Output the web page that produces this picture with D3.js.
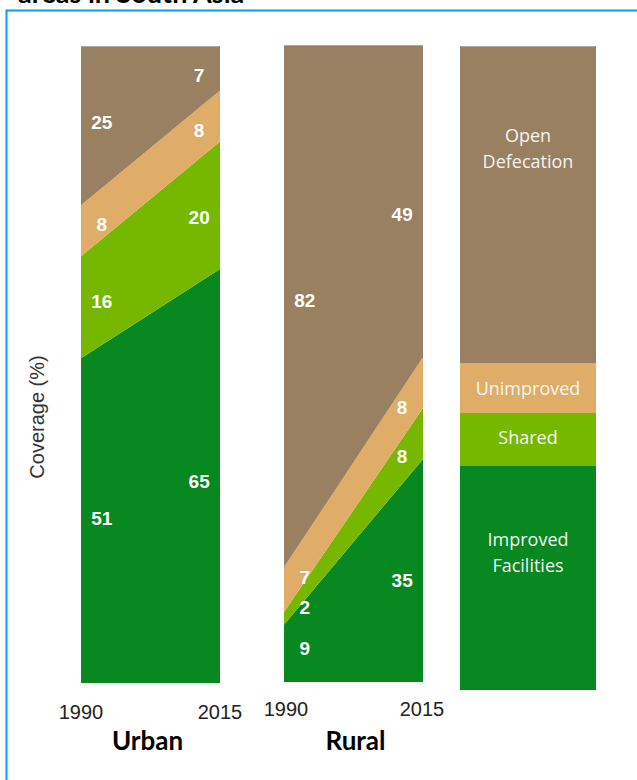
<!DOCTYPE html>
<html>
  <head>
    <title>Sanitation coverage, South Asia</title>
    <script src="https://d3js.org/d3.v7.min.js"></script>
    <style>
      body { margin: 0; background: #fff; }
      .value { font-family: "Liberation Sans", Arial, sans-serif; font-weight: bold; font-size: 19px; fill: #fff; text-anchor: middle; }
      .year { font-family: "Liberation Sans", Arial, sans-serif; font-size: 20px; fill: #222; text-anchor: middle; }
      .group { font-family: Lato, sans-serif; font-weight: bold; font-size: 26px; fill: #000; text-anchor: middle; }
      .legend-text { font-family: "Open Sans", sans-serif; font-size: 18px; fill: #f4f4f4; text-anchor: middle; }
    </style>
  </head>
  <body>
    <svg width="637" height="780"></svg>
    <script>
      // stacked bottom -> top
      const categories = ["Improved Facilities", "Shared", "Unimproved", "Open Defecation"];
      const years = ["1990", "2015"];
      const urban1990 = [51, 16, 8, 25];
      const urban2015 = [65, 20, 8, 7];
      const rural1990 = [9, 2, 7, 82];
      const rural2015 = [35, 8, 8, 49];
      const groups = ["Urban", "Rural"];

      const colors = ["#088820", "#76b800", "#e0ad68", "#998060"];

      const svg = d3.select("svg");

      // title, cut off at top
      svg.append("text")
        .attr("x", 18).attr("y", 3)
        .style("font-family", "Lato, sans-serif")
        .style("font-weight", "bold")
        .style("font-size", "27px")
        .text("areas in South Asia");

      // blue frame (only top and left edges visible)
      svg.append("path")
        .attr("d", "M6.5,780 V10.5 H640")
        .attr("fill", "none")
        .attr("stroke", "#0a9bf5")
        .attr("stroke-width", 2);

      svg.append("text")
        .attr("transform", "translate(44,417) rotate(-90)")
        .attr("text-anchor", "middle")
        .style("font-family", "'Liberation Sans', Arial, sans-serif")
        .style("font-size", "20px")
        .style("fill", "#333")
        .text("Coverage (%)");

      const panels = [
        { name: groups[0], rows: [urban1990, urban2015], x0: 81, x1: 220, top: 46, bottom: 683, yearY: 719, yearX: [81, 220] },
        { name: groups[1], rows: [rural1990, rural2015], x0: 284, x1: 423, top: 45, bottom: 682, yearY: 716, yearX: [286, 422] }
      ];

      const stack = d3.stack().keys(d3.range(categories.length));

      panels.forEach(p => {
        const data = p.rows.map((r, i) => Object.assign({ year: years[i] }, r));
        const series = stack(data);
        const x = d3.scalePoint().domain(years).range([p.x0, p.x1]);
        const y = d3.scaleLinear().domain([0, 100]).range([p.bottom, p.top]);
        const area = d3.area()
          .x(d => x(d.data.year))
          .y0(d => y(d[0]))
          .y1(d => y(d[1]));

        const g = svg.append("g");
        g.selectAll("path.band")
          .data(series)
          .join("path")
            .attr("class", "band")
            .attr("d", area)
            .attr("fill", (d, i) => colors[i]);

        // thin grey top edge
        g.append("line")
          .attr("x1", p.x0).attr("x2", p.x1)
          .attr("y1", p.top + 0.5).attr("y2", p.top + 0.5)
          .attr("stroke", "#a9a9a9");

        // value labels near each side, centred in band at that x
        const sides = [{ i: 0, t: 0.06, lx: 0.15 }, { i: 1, t: 0.88, lx: 0.85 }];
        sides.forEach(s => {
          const lx = p.x0 + s.lx * (p.x1 - p.x0);
          series.forEach(ser => {
            const a = ser[0], b = ser[1];
            const lo = a[0] + (b[0] - a[0]) * s.t;
            const hi = a[1] + (b[1] - a[1]) * s.t;
            g.append("text")
              .attr("class", "value")
              .attr("x", lx)
              .attr("y", y((lo + hi) / 2))
              .attr("dy", "0.36em")
              .text(ser[s.i].data[ser.key]);
          });
        });

        const xAxis = svg.append("g");
        xAxis.selectAll("text")
          .data(years)
          .join("text")
            .attr("class", "year")
            .attr("x", (d, i) => p.yearX[i])
            .attr("y", p.yearY)
            .text(d => d);

        svg.append("text")
          .attr("class", "group")
          .attr("x", (p.x0 + p.x1) / 2 + (p.name === "Urban" ? -3 : 2))
          .attr("y", 750)
          .text(p.name);
      });

      // legend column
      const legendX = 460, legendW = 136, legendBottom = 690;
      const legendHeights = [224, 53, 50, 317];       // layout only
      const legendTextY = [74, 25, 26, 90];          // first line offset from box top
      const legendLines = [["Improved", "Facilities"], ["Shared"], ["Unimproved"], ["Open", "Defecation"]];
      let yb = legendBottom;
      const lg = svg.append("g");
      categories.forEach((c, i) => {
        const h = legendHeights[i];
        const yt = yb - h;
        lg.append("rect")
          .attr("x", legendX).attr("y", yt)
          .attr("width", legendW).attr("height", h)
          .attr("fill", colors[i]);
        legendLines[i].forEach((line, j) => {
          lg.append("text")
            .attr("class", "legend-text")
            .attr("x", legendX + legendW / 2)
            .attr("y", yt + legendTextY[i] + j * 26)
            .attr("dy", "0.35em")
            .text(line);
        });
        yb = yt;
      });
      lg.append("line")
        .attr("x1", legendX).attr("x2", legendX + legendW)
        .attr("y1", yb + 0.5).attr("y2", yb + 0.5)
        .attr("stroke", "#a9a9a9");
    </script>
  </body>
</html>
